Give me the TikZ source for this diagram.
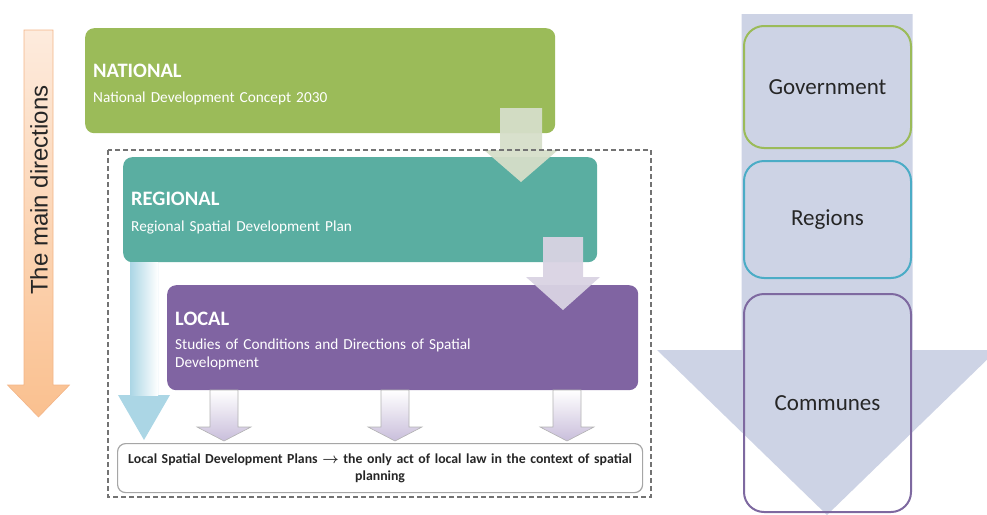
\documentclass[tikz,border=0pt]{standalone}
\usepackage{fontspec}
\setmainfont{Carlito}
\newfontfamily\arialfont{Liberation Sans}
\definecolor{natgreen}{HTML}{9BBB59}
\definecolor{regteal}{HTML}{5AAEA1}
\definecolor{locpurple}{HTML}{8064A2}
\definecolor{tierblue}{HTML}{4BACC6}
\definecolor{tierpurple}{HTML}{7E69A0}
\definecolor{bigarrow}{HTML}{CDD3E5}
\definecolor{orangetop}{HTML}{FDEBDD}
\definecolor{orangebot}{HTML}{FAC08F}
\definecolor{orangeedge}{HTML}{F3B587}
\definecolor{greenarrow}{HTML}{D6DEC9}
\definecolor{lavarrow}{HTML}{D9D3E3}
\definecolor{lavbot}{HTML}{C9BEDB}
\definecolor{lightblue}{HTML}{ABD6E5}
\definecolor{textdark}{HTML}{262626}
\newcommand{\lvlhead}[1]{{\fontsize{20.5}{22}\selectfont\bfseries\rule{0pt}{21pt}#1}}
% block arrow pointing down: [opts]{centre x}{top}{head base}{tip}{half shaft}{half head}
\newcommand{\blockdown}[7][]{%
  \path[#1] (#2-#6,#3) -- (#2+#6,#3) -- (#2+#6,#4) -- (#2+#7,#4) -- (#2,#5)
    -- (#2-#7,#4) -- (#2-#6,#4) -- cycle;}

\begin{document}
\begin{tikzpicture}[x=1pt,y=-1pt,
    levelbox/.style={anchor=north west,rounded corners=9pt,text=white,align=left,inner xsep=8pt,
      font=\fontsize{15.3}{18}\selectfont},
    tierbox/.style={anchor=north west,draw,line width=2pt,rounded corners=20pt,
      minimum width=167pt,font=\fontsize{23}{26}\selectfont,text=textdark}]
  \useasboundingbox (0,0) rectangle (987,514);

  % levels of government, right
  \blockdown[fill=bigarrow]{827}{14}{350}{515}{85.5}{170}
  \node[tierbox,draw=natgreen,minimum height=122pt] (gov) at (743,25) {Government};
  \node[tierbox,draw=tierblue,minimum height=117pt] (regions) at (743,160) {Regions};
  \node[tierbox,draw=tierpurple,minimum height=218pt] (communes) at (743,293) {Communes};

  % main directions arrow
  \blockdown[top color=orangetop,bottom color=orangebot,draw=orangeedge,line width=0.6pt]{38.5}{30}{385}{417}{14.5}{31}
  \node[rotate=90,font=\arialfont\fontsize{24}{28}\selectfont,text=textdark] (dirs) at (39,190) {The main directions};

  % planning levels
  \node[levelbox,fill=natgreen,minimum width=470pt,minimum height=105pt,text width=454pt] (nat) at (85,28)
    {\lvlhead{NATIONAL}\\[7pt]National Development Concept 2030};
  \node[levelbox,fill=regteal,minimum width=474pt,minimum height=105pt,text width=458pt] (reg) at (123,157)
    {\lvlhead{REGIONAL}\\[8pt]Regional Spatial Development Plan};
  \node[levelbox,fill=locpurple,minimum width=471pt,minimum height=105pt,text width=455pt] (loc) at (167,285)
    {\lvlhead{LOCAL}\\[6pt]Studies of Conditions and Directions of Spatial\\Development};
  \node[anchor=north west,draw=gray!70,line width=1.2pt,fill=white,rounded corners=8pt,
    minimum width=525pt,minimum height=49pt,text width=515pt,align=center,
    font=\fontsize{13.8}{17}\selectfont\bfseries\boldmath,text=textdark] (plans) at (117,443)
    {Local Spatial Development Plans $\rightarrow$ the only act of local law in the context of spatial\\planning};

  % arrows between levels
  \blockdown[fill=greenarrow,opacity=0.95]{521}{108}{150}{182}{21}{37}
  \blockdown[fill=lavarrow,opacity=0.95]{563}{237}{277}{310}{20}{37}
  \blockdown[fill=lightblue]{144}{262}{395}{440}{14}{26}
  \path[left color=lightblue,right color=white] (130,262) rectangle (158,395);
  \foreach \x in {224,395,567}{
    \blockdown[top color=white,bottom color=lavbot,draw=gray!60,line width=0.6pt]{\x}{390}{427}{441}{14}{27}}

  \draw[dash pattern=on 5pt off 3pt,gray!90!black,line width=1.2pt] (108,150) rectangle (651,497);
\end{tikzpicture}
\end{document}
